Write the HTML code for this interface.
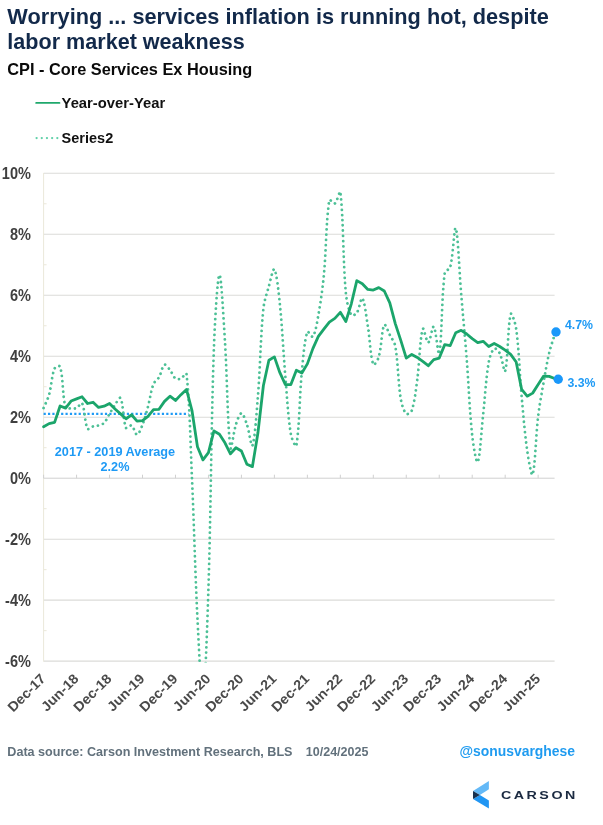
<!DOCTYPE html>
<html><head><meta charset="utf-8"><title>CPI - Core Services Ex Housing</title>
<style>
html,body{margin:0;padding:0;background:#fff;}
body{width:603px;height:825px;overflow:hidden;font-family:"Liberation Sans",Arial,sans-serif;}
svg{display:block;}
svg text{font-family:"Liberation Sans",Arial,sans-serif;font-weight:bold;}
</style></head><body>
<svg width="603" height="825" viewBox="0 0 603 825">
<rect width="603" height="825" fill="#fff"/>
<defs><clipPath id="plot"><rect x="40" y="170" width="520" height="492.5"/></clipPath></defs>
<g font-size="22.3" fill="#12294a">
<text x="7.3" y="24" textLength="541.5" lengthAdjust="spacingAndGlyphs">Worrying ... services inflation is running hot, despite</text>
<text x="7.3" y="49" textLength="237.5" lengthAdjust="spacingAndGlyphs">labor market weakness</text>
</g>
<text x="7.3" y="75.1" font-size="17.1" fill="#0a0a0a" textLength="245" lengthAdjust="spacingAndGlyphs">CPI - Core Services Ex Housing</text>
<line x1="36.2" x2="59.4" y1="102.9" y2="102.9" stroke="#1fa86c" stroke-width="1.9" stroke-linecap="round"/>
<text x="61.6" y="108.1" font-size="14.8" fill="#111" textLength="103.6" lengthAdjust="spacingAndGlyphs">Year-over-Year</text>
<line x1="36.6" x2="58" y1="138.1" y2="138.1" stroke="#5fd0a8" stroke-width="2.3" stroke-dasharray="0.01 5.17" stroke-linecap="round"/>
<text x="61.6" y="142.7" font-size="14.8" fill="#111" textLength="51.6" lengthAdjust="spacingAndGlyphs">Series2</text>
<g stroke="#dbdbd8" stroke-width="1.1"><line x1="43.6" x2="554.6" y1="661.14" y2="661.14"/><line x1="43.6" x2="554.6" y1="600.16" y2="600.16"/><line x1="43.6" x2="554.6" y1="539.18" y2="539.18"/><line x1="43.6" x2="554.6" y1="417.22" y2="417.22"/><line x1="43.6" x2="554.6" y1="356.24" y2="356.24"/><line x1="43.6" x2="554.6" y1="295.26" y2="295.26"/><line x1="43.6" x2="554.6" y1="234.28" y2="234.28"/><line x1="43.6" x2="554.6" y1="173.3" y2="173.3"/></g>
<g stroke="#ebe8da" stroke-width="1"><line x1="43.6" x2="46.6" y1="630.65" y2="630.65"/><line x1="43.6" x2="46.6" y1="569.67" y2="569.67"/><line x1="43.6" x2="46.6" y1="508.69" y2="508.69"/><line x1="43.6" x2="46.6" y1="447.71" y2="447.71"/><line x1="43.6" x2="46.6" y1="386.73" y2="386.73"/><line x1="43.6" x2="46.6" y1="325.75" y2="325.75"/><line x1="43.6" x2="46.6" y1="264.77" y2="264.77"/><line x1="43.6" x2="46.6" y1="203.79" y2="203.79"/><line x1="43.6" x2="43.6" y1="173" y2="661.6"/></g>
<g stroke="#d0d0d0" stroke-width="1"><line x1="43.6" x2="554.6" y1="478.2" y2="478.2"/><line x1="43.6" x2="43.6" y1="478.2" y2="474.7"/><line x1="76.57" x2="76.57" y1="478.2" y2="474.7"/><line x1="109.54" x2="109.54" y1="478.2" y2="474.7"/><line x1="142.51" x2="142.51" y1="478.2" y2="474.7"/><line x1="175.48" x2="175.48" y1="478.2" y2="474.7"/><line x1="208.45" x2="208.45" y1="478.2" y2="474.7"/><line x1="241.42" x2="241.42" y1="478.2" y2="474.7"/><line x1="274.39" x2="274.39" y1="478.2" y2="474.7"/><line x1="307.36" x2="307.36" y1="478.2" y2="474.7"/><line x1="340.33" x2="340.33" y1="478.2" y2="474.7"/><line x1="373.3" x2="373.3" y1="478.2" y2="474.7"/><line x1="406.27" x2="406.27" y1="478.2" y2="474.7"/><line x1="439.24" x2="439.24" y1="478.2" y2="474.7"/><line x1="472.21" x2="472.21" y1="478.2" y2="474.7"/><line x1="505.18" x2="505.18" y1="478.2" y2="474.7"/><line x1="538.15" x2="538.15" y1="478.2" y2="474.7"/></g>
<g font-size="15.7" fill="#404040"><text transform="translate(30.9 666.64) scale(0.925 1)" text-anchor="end">-6%</text><text transform="translate(30.9 605.66) scale(0.925 1)" text-anchor="end">-4%</text><text transform="translate(30.9 544.68) scale(0.925 1)" text-anchor="end">-2%</text><text transform="translate(30.9 483.7) scale(0.925 1)" text-anchor="end">0%</text><text transform="translate(30.9 422.72) scale(0.925 1)" text-anchor="end">2%</text><text transform="translate(30.9 361.74) scale(0.925 1)" text-anchor="end">4%</text><text transform="translate(30.9 300.76) scale(0.925 1)" text-anchor="end">6%</text><text transform="translate(30.9 239.78) scale(0.925 1)" text-anchor="end">8%</text><text transform="translate(30.9 178.8) scale(0.925 1)" text-anchor="end">10%</text></g>
<g font-size="13.7" fill="#4a4a4a"><text transform="translate(46.5 679.5) rotate(-45) scale(1.05 1)" text-anchor="end">Dec-17</text><text transform="translate(79.47 679.5) rotate(-45) scale(1.05 1)" text-anchor="end">Jun-18</text><text transform="translate(112.44 679.5) rotate(-45) scale(1.05 1)" text-anchor="end">Dec-18</text><text transform="translate(145.41 679.5) rotate(-45) scale(1.05 1)" text-anchor="end">Jun-19</text><text transform="translate(178.38 679.5) rotate(-45) scale(1.05 1)" text-anchor="end">Dec-19</text><text transform="translate(211.35 679.5) rotate(-45) scale(1.05 1)" text-anchor="end">Jun-20</text><text transform="translate(244.32 679.5) rotate(-45) scale(1.05 1)" text-anchor="end">Dec-20</text><text transform="translate(277.29 679.5) rotate(-45) scale(1.05 1)" text-anchor="end">Jun-21</text><text transform="translate(310.26 679.5) rotate(-45) scale(1.05 1)" text-anchor="end">Dec-21</text><text transform="translate(343.23 679.5) rotate(-45) scale(1.05 1)" text-anchor="end">Jun-22</text><text transform="translate(376.2 679.5) rotate(-45) scale(1.05 1)" text-anchor="end">Dec-22</text><text transform="translate(409.17 679.5) rotate(-45) scale(1.05 1)" text-anchor="end">Jun-23</text><text transform="translate(442.14 679.5) rotate(-45) scale(1.05 1)" text-anchor="end">Dec-23</text><text transform="translate(475.11 679.5) rotate(-45) scale(1.05 1)" text-anchor="end">Jun-24</text><text transform="translate(508.08 679.5) rotate(-45) scale(1.05 1)" text-anchor="end">Dec-24</text><text transform="translate(541.05 679.5) rotate(-45) scale(1.05 1)" text-anchor="end">Jun-25</text></g>
<line x1="43.6" x2="188.6" y1="413.9" y2="413.9" stroke="#1e9af5" stroke-width="2.3" stroke-dasharray="2.19 2.19"/>
<g clip-path="url(#plot)">
<path d="M43.6 408.07 C45.43 403.6 47.81 399.3 49.09 394.66 C51.47 386.08 51.58 376.12 54.59 368.44 C55.24 366.77 59.64 365 60.09 366.61 C63.3 378.11 62.35 395.48 65.58 407.77 C66.01 409.4 69.24 408.33 71.08 408.38 C72.9 408.43 75 408.81 76.57 408.07 C78.66 407.09 81.26 401.68 82.06 403.19 C84.93 408.59 84.58 422.52 87.56 428.81 C88.24 430.25 91.15 426.95 93.06 426.37 C94.82 425.83 96.79 425.99 98.55 425.45 C100.45 424.87 102.72 424.4 104.05 423.01 C106.39 420.54 107.71 416.92 109.54 413.87 C111.37 410.82 113.01 407.63 115.03 404.72 C116.68 402.35 119.72 396.3 120.53 398.01 C123.38 404.02 122.97 420.26 126.03 427.89 C126.63 429.4 130.2 424.65 131.52 425.45 C133.86 426.88 135.23 434.7 137.02 434.6 C138.89 434.5 141.16 428.3 142.51 424.84 C144.82 418.95 146.35 412.69 148 406.55 C150.01 399.08 150.83 391.09 153.5 383.99 C154.5 381.33 157.57 379.76 159 377.28 C161.24 373.36 162.13 366.35 164.49 364.78 C165.79 363.91 168.42 368.01 169.99 369.96 C172.09 372.58 173.1 376.65 175.48 378.5 C176.77 379.5 179.41 379.19 180.97 378.5 C183.07 377.57 186.23 371.44 186.47 373.62 C189.89 404.67 190.4 443.33 191.97 478.2 C194.06 524.94 195.12 571.73 197.46 618.45 C198.78 644.91 201.42 701.99 202.95 697.73 C205.08 691.83 207.3 624.58 208.45 587.96 C210.97 507.7 211.13 427.33 213.94 347.09 C214.79 322.96 217.53 275.89 219.44 274.83 C221.19 273.86 223.53 318.91 224.94 341 C227.19 376.54 227.43 424.94 230.43 447.71 C231.1 452.79 233.53 432.06 235.93 424.54 C237.19 420.57 239.59 413.26 241.42 413.26 C243.25 413.26 245.57 420.6 246.91 424.54 C249.24 431.37 251.29 448.43 252.41 445.58 C254.95 439.08 256.59 412.89 257.91 396.49 C260.25 367.26 260.5 337.78 263.4 308.68 C264.16 300.99 266.81 293.56 268.9 286.11 C270.48 280.45 273.17 267.32 274.39 269.34 C276.84 273.42 278.68 292.65 279.88 304.41 C282.35 328.52 283.33 352.8 285.38 376.97 C287 396.1 287.87 415.52 290.88 434.29 C291.53 438.39 295.84 448.6 296.37 445.58 C299.5 427.66 299.48 396.12 301.87 371.49 C303.15 358.21 304.26 341.64 307.36 331.85 C307.93 330.05 311.95 338.11 312.86 336.73 C315.61 332.52 317.04 322.4 318.35 315.08 C320.7 301.97 322.58 288.71 323.85 275.44 C326.24 250.4 325.96 222.23 329.34 200.13 C329.63 198.25 333.59 204.38 334.84 203.49 C337.26 201.74 339.92 188.91 340.33 192.2 C343.59 218.68 342.84 259.45 345.83 292.82 C346.5 300.41 348.41 309.74 351.32 315.08 C352.07 316.45 355.81 314.47 356.82 312.94 C359.48 308.89 361.01 296.75 362.31 298.31 C364.67 301.12 366.26 316.76 367.81 326.05 C369.92 338.81 370.35 356.21 373.3 364.47 C374.01 366.47 377.97 359.81 378.8 356.85 C381.64 346.6 381.58 330.24 384.29 324.84 C385.25 322.93 388.04 331.5 389.79 334.9 C391.7 338.61 394.58 342.09 395.28 346.18 C398.24 363.44 397.96 381.57 400.78 398.93 C401.62 404.13 403.66 411.12 406.27 413.87 C407.32 414.98 411.14 412.45 411.77 410.51 C414.8 401.07 415.87 390.05 417.26 379.72 C419.53 362.81 419.91 338.42 422.76 328.8 C423.58 326.02 426.53 342.85 428.25 342.52 C430.2 342.14 432.36 325.25 433.75 326.66 C436.03 329.01 438.31 358.36 439.24 353.8 C441.97 340.47 441.4 299.28 444.74 273 C445.06 270.41 449.61 269.73 450.23 267.21 C453.28 254.79 454.36 224.78 455.73 228.18 C458.03 233.93 459.36 272.5 461.22 294.65 C463.03 316.2 465.03 337.73 466.72 359.29 C468.7 384.69 469.51 410.23 472.21 435.51 C473.17 444.48 476.39 464.6 477.71 462.04 C480.05 457.49 481.44 430.14 483.2 414.17 C485.1 396.9 485.84 379.36 488.7 362.34 C489.5 357.51 491.72 350.67 494.19 348.62 C495.38 347.62 498.68 351.12 499.69 353.19 C502.34 358.64 504.27 374.4 505.18 371.18 C507.94 361.39 507.8 325.26 510.68 314.16 C511.46 311.13 515.49 323.66 516.17 328.8 C519.15 351.21 519.61 374.15 521.66 396.79 C523.28 414.6 524.66 432.47 527.16 450.15 C528.32 458.39 531.56 477.92 532.65 474.54 C535.22 466.64 535.85 435.66 538.15 416.31 C539.51 404.86 541.67 393.51 543.64 382.16 C545.33 372.48 546.92 362.75 549.14 353.19 C550.58 347 552.8 341 554.63 334.9" fill="none" stroke="#4cc096" stroke-width="2.8" stroke-linecap="round" stroke-dasharray="0.01 5.2"/>
<path d="M43.6 426.82 L49.09 423.62 L54.59 422.4 L60.09 405.94 L65.58 408.07 L71.08 401.06 L76.57 398.93 L82.06 396.79 L87.56 403.5 L93.06 402.28 L98.55 407.46 L104.05 406.24 L109.54 403.5 L115.03 408.99 L120.53 413.87 L126.03 418.74 L131.52 414.78 L137.02 421.18 L142.51 420.57 L148 416.31 L153.5 409.6 L159 409.29 L164.49 401.37 L169.99 396.18 L175.48 400.45 L180.97 394.66 L186.47 389.47 L191.97 410.51 L197.46 446.8 L202.95 459.91 L208.45 452.59 L213.94 430.94 L219.44 434.29 L224.94 442.83 L230.43 453.81 L235.93 447.71 L241.42 451.06 L246.91 464.17 L252.41 466.61 L257.91 433.07 L263.4 385.51 L268.9 360.2 L274.39 356.85 L279.88 372.7 L285.38 384.6 L290.88 384.6 L296.37 370.27 L301.87 373.01 L307.36 363.86 L312.86 348.62 L318.35 336.42 L323.85 329.1 L329.34 322.09 L334.84 318.43 L340.33 312.33 L345.83 321.48 L351.32 303.8 L356.82 280.62 L362.31 283.67 L367.81 289.47 L373.3 290.08 L378.8 287.64 L384.29 290.99 L389.79 302.88 L395.28 323.62 L400.78 340.39 L406.27 358.07 L411.77 354.41 L417.26 357.46 L422.76 361.42 L428.25 365.69 L433.75 359.59 L439.24 358.07 L444.74 344.65 L450.23 345.57 L455.73 332.76 L461.22 330.32 L466.72 333.98 L472.21 338.56 L477.71 342.52 L483.2 341.3 L488.7 346.48 L494.19 343.43 L499.69 346.48 L505.18 350.14 L510.68 354.41 L516.17 362.03 L521.66 389.47 L527.16 396.18 L532.65 393.13 L538.15 384.6 L543.64 376.06 L549.14 376.36 L554.63 378.5" fill="none" stroke="#1ba56b" stroke-width="2.8" stroke-linejoin="round" stroke-linecap="round"/>
</g>
<circle cx="556" cy="332" r="4.7" fill="#1a98fa"/>
<circle cx="558.2" cy="379.2" r="4.7" fill="#1a98fa"/>
<g font-size="12.3" fill="#1e9af5">
<text x="565" y="329">4.7%</text>
<text x="567.4" y="387">3.3%</text>
<text x="115" y="455.5" text-anchor="middle" font-size="12.7">2017 - 2019 Average</text>
<text x="115" y="470.5" text-anchor="middle" font-size="12.7">2.2%</text>
</g>
<text x="7.3" y="755.6" font-size="12.58" fill="#62717c">Data source: Carson Investment Research, BLS</text>
<text x="305.8" y="755.6" font-size="12.5" fill="#62717c">10/24/2025</text>
<text x="459.4" y="756.2" font-size="15" fill="#1f9bf0" textLength="115.7" lengthAdjust="spacingAndGlyphs">@sonusvarghese</text>
<g>
<polygon points="488.9,781 488.9,789.3 479.9,794.9 473,790.9" fill="#64b9f7"/>
<polygon points="473,798.9 479.9,794.9 488.9,800.5 488.9,808.4" fill="#2196f3"/>
<polygon points="473,790.9 479.9,794.9 473,798.9" fill="#17304f"/>
<text transform="translate(501 799) scale(1.3 1)" font-size="11" fill="#1b2a41" letter-spacing="1.9">CARSON</text>
</g>
</svg>
</body></html>
